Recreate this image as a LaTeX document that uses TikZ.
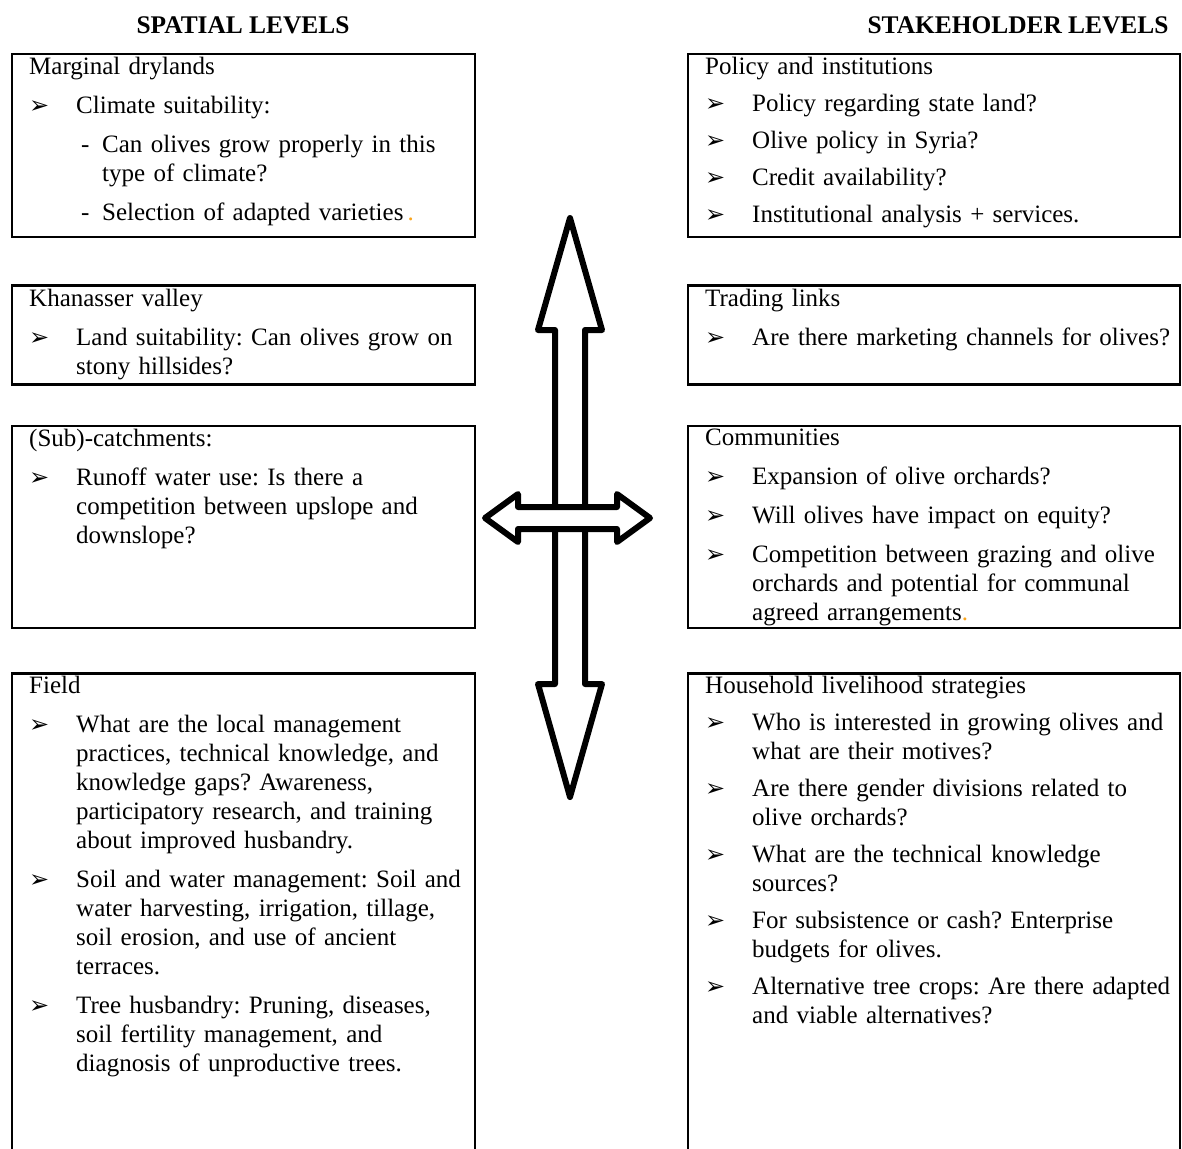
\documentclass[tikz,border=0pt]{standalone}
\usepackage{fontspec}
\setmainfont{Liberation Serif}
\newfontfamily\bulletfont{DejaVu Sans}
\usetikzlibrary{positioning}
\definecolor{dotorange}{RGB}{250,165,30}

\newcommand{\itm}[1]{\par\hangindent=23.5pt\hangafter=1\noindent\makebox[23.5pt][l]{\bulletfont\fontsize{12pt}{12pt}\selectfont ➢}#1\par}
\newcommand{\subitm}[1]{\par\hangindent=36.5pt\hangafter=1\noindent\hspace*{26pt}\makebox[10.5pt][l]{-}#1\par}

\begin{document}
\begin{tikzpicture}[x=0.5pt,y=-0.5pt,
  spbox/.style={draw,line width=1.2pt,inner sep=0pt,anchor=north,minimum width=231.5pt},
  stbox/.style={draw,line width=1.2pt,inner sep=0pt,anchor=north,minimum width=246pt},
  qtext/.style={anchor=north west,inner xsep=9pt,inner ysep=2pt,align=left,
    font=\fontsize{12.5pt}{14.5pt}\selectfont,
    execute at begin node={\setlength{\parskip}{#1}\setlength{\parindent}{0pt}\frenchspacing}},
  qtext/.default=5pt,
  heading/.style={font=\fontsize{12.7pt}{14.5pt}\selectfont\bfseries},
  bigarrow/.style={draw,fill=white,line width=3pt,line join=round}]
  \useasboundingbox (0,0) rectangle (1182,1148);
  \clip (0,0) rectangle (1182,1148);

  % spatial levels
  \node[heading] (spatial) at (243,25) {SPATIAL LEVELS};
  \node[spbox,minimum height=91.5pt] (drylands) at (243.5,53) {};
  \node[spbox,minimum height=49.5pt] (valley) [below = 23pt of drylands] {};
  \node[spbox,minimum height=101pt] (catchment) [below = 19.5pt of valley] {};
  \node[spbox,minimum height=250pt] (field) [below = 21.5pt of catchment] {};

  % stakeholder levels
  \node[heading] (stakeholder) at (1018,25) {STAKEHOLDER LEVELS};
  \node[stbox,minimum height=91.5pt] (policy) at (934,53) {};
  \node[stbox,minimum height=49.5pt] (trading) [below = 23pt of policy] {};
  \node[stbox,minimum height=101pt] (community) [below = 19.5pt of trading] {};
  \node[stbox,minimum height=250pt] (household) [below = 21.5pt of community] {};

  \node[qtext,text width=231.5pt] (drylands-q) at (drylands.north west) {%
    Marginal drylands
    \itm{Climate suitability:}
    \subitm{Can olives grow properly in this\newline type of climate?}
    \subitm{Selection of adapted varieties\,\textcolor{dotorange}{.}}};
  \node[qtext,text width=231.5pt] (valley-q) at (valley.north west) {%
    Khanasser valley
    \itm{Land suitability: Can olives grow on\newline stony hillsides?}};
  \node[qtext,text width=231.5pt] (catchment-q) at (catchment.north west) {%
    (Sub)-catchments:
    \itm{Runoff water use: Is there a\newline competition between upslope and\newline downslope?}};
  \node[qtext,text width=231.5pt] (field-q) at (field.north west) {%
    Field
    \itm{What are the local management\newline practices, technical knowledge, and\newline
      knowledge gaps? Awareness,\newline participatory research, and training\newline
      about improved husbandry.}
    \itm{Soil and water management: Soil and\newline water harvesting, irrigation, tillage,\newline
      soil erosion, and use of ancient\newline terraces.}
    \itm{Tree husbandry: Pruning, diseases,\newline soil fertility management, and\newline
      diagnosis of unproductive trees.}};

  \node[qtext=4pt,text width=246pt] (policy-q) at (policy.north west) {%
    Policy and institutions
    \itm{Policy regarding state land?}
    \itm{Olive policy in Syria?}
    \itm{Credit availability?}
    \itm{Institutional analysis + services.}};
  \node[qtext,text width=246pt] (trading-q) at (trading.north west) {%
    Trading links
    \itm{Are there marketing channels for olives?}};
  \node[qtext,text width=246pt] (community-q) at (community.north west) {%
    Communities
    \itm{Expansion of olive orchards?}
    \itm{Will olives have impact on equity?}
    \itm{Competition between grazing and olive\newline orchards and potential for communal\newline
      agreed arrangements\textcolor{dotorange}{.}}};
  \node[qtext=4pt,text width=246pt] (household-q) at (household.north west) {%
    Household livelihood strategies
    \itm{Who is interested in growing olives and\newline what are their motives?}
    \itm{Are there gender divisions related to\newline olive orchards?}
    \itm{What are the technical knowledge\newline sources?}
    \itm{For subsistence or cash? Enterprise\newline budgets for olives.}
    \itm{Alternative tree crops: Are there adapted\newline and viable alternatives?}};

  % the cross of arrows
  \draw[bigarrow] (570,218) -- (602,330) -- (585,330) -- (585,684) -- (602,684)
    -- (570,797) -- (538,684) -- (555,684) -- (555,330) -- (538,330) -- cycle;
  \draw[bigarrow] (485,518) -- (518,494) -- (518,507) -- (617,507) -- (617,494)
    -- (650,518) -- (617,542) -- (617,529) -- (518,529) -- (518,542) -- cycle;
\end{tikzpicture}
\end{document}
